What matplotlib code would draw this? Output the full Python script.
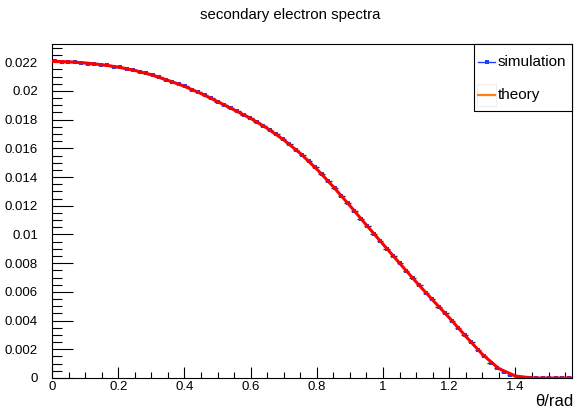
import numpy as np
import matplotlib
matplotlib.use("Agg")
import matplotlib.pyplot as plt
from matplotlib.lines import Line2D
from matplotlib.patches import Rectangle
from matplotlib.ticker import MultipleLocator, FuncFormatter

plt.rcParams['font.family'] = ['Liberation Sans', 'DejaVu Sans']

# Histogram: 80 bins on [0, pi/2]
n_bins = 80
theta_max = np.pi / 2

# Simulated spectrum (normalised counts per bin)
sim_counts = [
    0.02207, 0.02204, 0.02205, 0.02199, 0.02198, 0.02191, 0.02190, 0.02182,
    0.02178, 0.02170, 0.02165, 0.02154, 0.02147, 0.02133, 0.02123, 0.02108,
    0.02096, 0.02078, 0.02064, 0.02045, 0.02031, 0.02009, 0.01991, 0.01969,
    0.01949, 0.01924, 0.01904, 0.01879, 0.01858, 0.01834, 0.01811, 0.01783,
    0.01758, 0.01728, 0.01698, 0.01663, 0.01629, 0.01590, 0.01553, 0.01509,
    0.01467, 0.01418, 0.01371, 0.01321, 0.01271, 0.01217, 0.01166, 0.01111,
    0.01060, 0.01006, 0.00956, 0.00902, 0.00852, 0.00798, 0.00748, 0.00695,
    0.00646, 0.00594, 0.00547, 0.00496, 0.00450, 0.00399, 0.00351, 0.00297,
    0.00248, 0.00197, 0.00151, 0.00107, 0.00072, 0.00040, 0.00021, 0.00008,
    0.00003, 0.00001, 0.0, 0.0, 0.0, 0.0, 0.0, 0.0,
]
sim_errors = [
    0.00006, 0.00006, 0.00006, 0.00006, 0.00006, 0.00006, 0.00006, 0.00006,
    0.00006, 0.00006, 0.00006, 0.00006, 0.00006, 0.00006, 0.00006, 0.00006,
    0.00006, 0.00006, 0.00006, 0.00006, 0.00006, 0.00006, 0.00006, 0.00006,
    0.00006, 0.00006, 0.00006, 0.00006, 0.00006, 0.00006, 0.00006, 0.00006,
    0.00005, 0.00005, 0.00005, 0.00005, 0.00005, 0.00005, 0.00005, 0.00005,
    0.00005, 0.00005, 0.00005, 0.00005, 0.00005, 0.00005, 0.00005, 0.00005,
    0.00004, 0.00004, 0.00004, 0.00004, 0.00004, 0.00004, 0.00004, 0.00004,
    0.00003, 0.00003, 0.00003, 0.00003, 0.00003, 0.00003, 0.00003, 0.00003,
    0.00002, 0.00002, 0.00002, 0.00002, 0.00001, 0.00001, 0.00001, 0.00001,
    0.0, 0.0, 0.0, 0.0, 0.0, 0.0, 0.0, 0.0,
]

# Theoretical curve
theory_theta = [
    0.00, 0.05, 0.10, 0.15, 0.20, 0.25, 0.30, 0.35, 0.40, 0.45, 0.50, 0.55,
    0.60, 0.65, 0.70, 0.75, 0.80, 0.85, 0.90, 0.95, 1.00, 1.05, 1.10, 1.15,
    1.20, 1.25, 1.30, 1.35, 1.40, 1.45, 1.5708,
]
theory_values = [
    0.02206, 0.02203, 0.02195, 0.02183, 0.02166, 0.02143, 0.02112, 0.02074,
    0.02032, 0.01982, 0.01926, 0.01868, 0.01809, 0.01740, 0.01659, 0.01565,
    0.01455, 0.01332, 0.01200, 0.01065, 0.00932, 0.00800, 0.00669, 0.00543,
    0.00420, 0.00290, 0.00165, 0.00065, 0.00014, 0.0, 0.0,
]

y_ticks = [0, 0.002, 0.004, 0.006, 0.008, 0.01, 0.012, 0.014, 0.016, 0.018, 0.02, 0.022]

W, H = 580, 416
edges = np.linspace(0, theta_max, n_bins + 1)
centers = 0.5 * (edges[:-1] + edges[1:])
half_w = 0.5 * (edges[1] - edges[0])

fig = plt.figure(figsize=(W / 100, H / 100), dpi=100)
ax = fig.add_axes([52 / W, 1 - 378 / H, 520 / W, 334 / H])

ax.errorbar(centers, sim_counts, xerr=half_w, yerr=sim_errors, fmt='s',
            color='#1f3fff', ecolor='#333333', elinewidth=1.0, capsize=0,
            markersize=2.2, markeredgewidth=0, zorder=2)
ax.plot(theory_theta, theory_values, color='red', lw=2.2, zorder=3)

ax.set_xlim(0, theta_max)
ax.set_ylim(0, 0.02327)

ax.xaxis.set_major_locator(MultipleLocator(0.2))
ax.xaxis.set_minor_locator(MultipleLocator(0.05))
ax.set_yticks(y_ticks)
ax.yaxis.set_minor_locator(MultipleLocator(0.0005))


def fmt(v, pos):
    return f"{v:.3f}".rstrip('0').rstrip('.')


ax.xaxis.set_major_formatter(FuncFormatter(fmt))
ax.yaxis.set_major_formatter(FuncFormatter(fmt))

ax.tick_params(axis='both', which='both', direction='in', top=False, right=False,
               labelsize=9.5, colors='black', width=0.8)
ax.tick_params(axis='x', which='major', length=8, pad=2)
ax.tick_params(axis='x', which='minor', length=4)
ax.tick_params(axis='y', which='major', length=15, pad=10)
ax.tick_params(axis='y', which='minor', length=7.5)
for sp in ax.spines.values():
    sp.set_linewidth(0.8)

fig.text(0.5, 1 - 15 / H, 'secondary electron spectra', ha='center', va='center',
         fontsize=10.8)
fig.text(573 / W, 1 - 401 / H, 'θ/rad', ha='right', va='center', fontsize=12)


# Legend box drawn in figure pixel coordinates (origin top-left)
def fx(px):
    return px / W


def fy(py):
    return 1 - py / H


fig.add_artist(Rectangle((fx(474), fy(111)), fx(572) - fx(474), fy(44) - fy(111),
                         transform=fig.transFigure, facecolor='white',
                         edgecolor='black', linewidth=0.8, zorder=5))
fig.add_artist(Rectangle((fx(477), fy(106)), fx(496) - fx(477), fy(84) - fy(106),
                         transform=fig.transFigure, facecolor='none',
                         edgecolor='#eeeeee', linewidth=0.8, zorder=6))
fig.add_artist(Line2D([fx(478), fx(495)], [fy(62), fy(62)], color='#1f3fff', lw=1.0,
                      transform=fig.transFigure, zorder=6))
fig.add_artist(Line2D([fx(486.5)], [fy(62)], color='#1f3fff', marker='s',
                      markersize=2.6, markeredgewidth=0, transform=fig.transFigure,
                      zorder=7))
fig.add_artist(Line2D([fx(478), fx(495)], [fy(95), fy(95)], color='#ff7f0e', lw=1.6,
                      transform=fig.transFigure, zorder=6))
fig.text(fx(498), fy(62), 'simulation', ha='left', va='center', fontsize=11, zorder=7)
fig.text(fx(498), fy(95), 'theory', ha='left', va='center', fontsize=11, zorder=7)

fig.savefig('out.png', dpi=100)
